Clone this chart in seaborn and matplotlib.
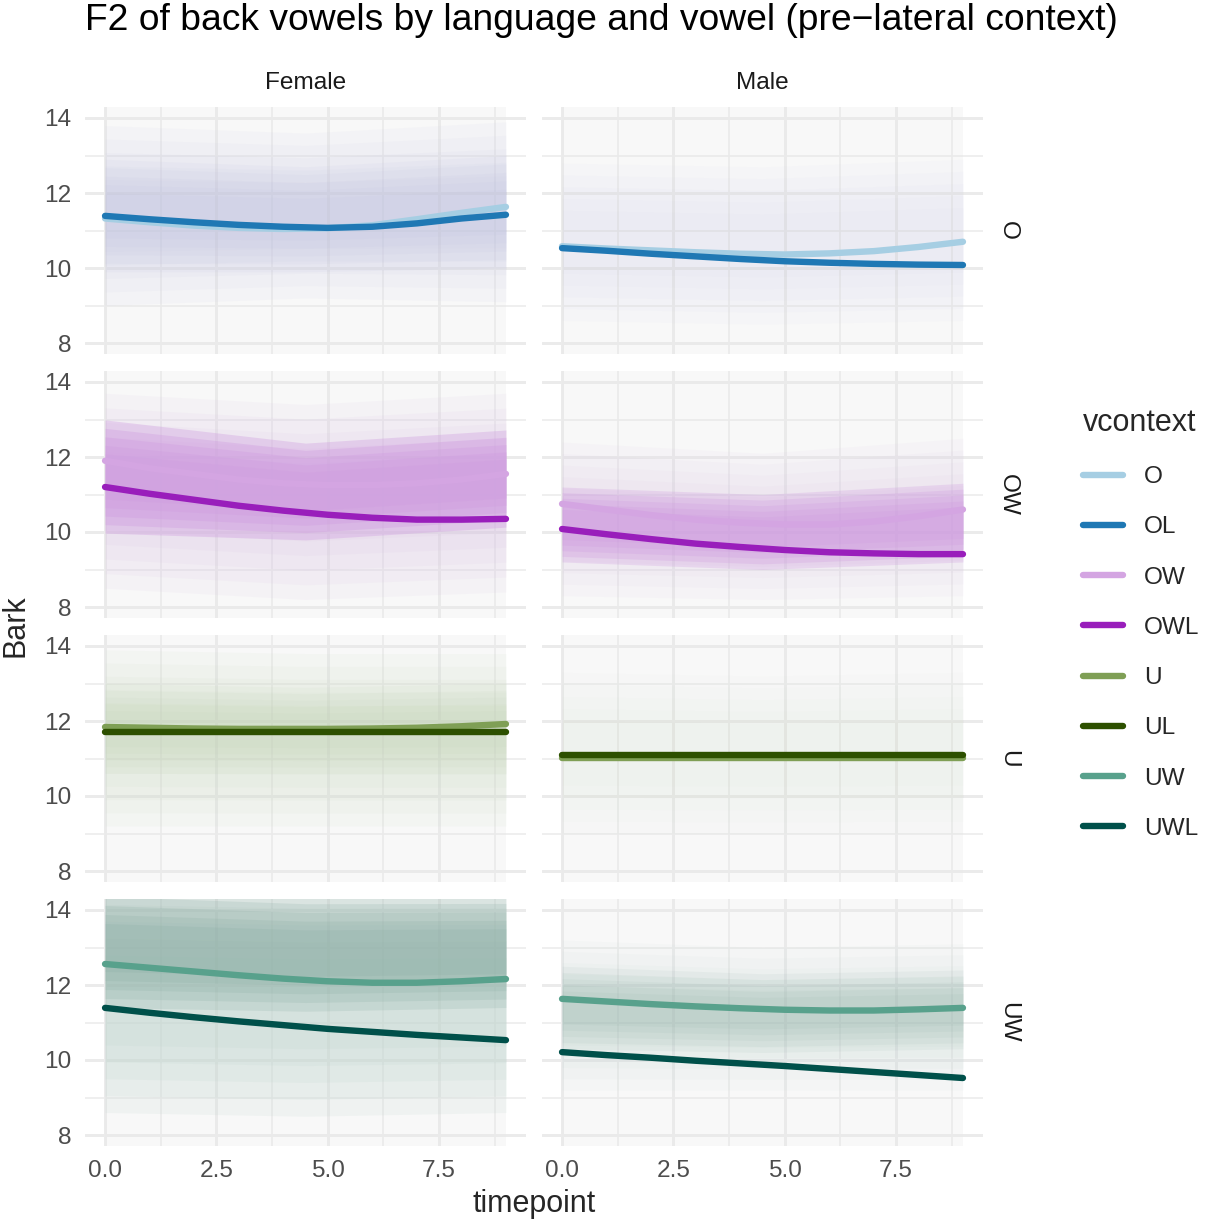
import numpy as np
import pandas as pd
import matplotlib
matplotlib.use("Agg")
import matplotlib.pyplot as plt
from matplotlib.lines import Line2D
import seaborn as sns

# smoothed mean F2 (Bark) per timepoint
timepoints = [0, 1, 2, 3, 4, 5, 6, 7, 8, 9]
sexes = ["Female", "Male"]
vowels = ["O", "OW", "U", "UW"]

female_O = [11.32, 11.22, 11.13, 11.07, 11.04, 11.06, 11.14, 11.30, 11.47, 11.63]
female_OL = [11.39, 11.30, 11.22, 11.15, 11.10, 11.07, 11.10, 11.19, 11.32, 11.42]
male_O = [10.58, 10.52, 10.47, 10.42, 10.38, 10.36, 10.39, 10.45, 10.56, 10.70]
male_OL = [10.53, 10.46, 10.38, 10.31, 10.24, 10.18, 10.14, 10.11, 10.09, 10.08]

female_OW = [11.90, 11.70, 11.55, 11.40, 11.30, 11.25, 11.25, 11.30, 11.40, 11.55]
female_OWL = [11.20, 11.02, 10.86, 10.70, 10.57, 10.46, 10.38, 10.33, 10.33, 10.35]
male_OW = [10.75, 10.60, 10.45, 10.33, 10.25, 10.20, 10.20, 10.28, 10.42, 10.60]
male_OWL = [10.08, 9.94, 9.81, 9.69, 9.60, 9.52, 9.46, 9.43, 9.41, 9.41]

female_U = [11.84, 11.82, 11.80, 11.79, 11.79, 11.79, 11.80, 11.82, 11.86, 11.92]
female_UL = [11.71, 11.71, 11.71, 11.71, 11.71, 11.71, 11.71, 11.71, 11.71, 11.71]
male_U = [11.02, 11.02, 11.02, 11.02, 11.02, 11.02, 11.02, 11.02, 11.02, 11.02]
male_UL = [11.09, 11.09, 11.09, 11.09, 11.09, 11.09, 11.09, 11.09, 11.09, 11.09]

female_UW = [12.56, 12.46, 12.36, 12.26, 12.17, 12.10, 12.06, 12.06, 12.10, 12.16]
female_UWL = [11.39, 11.26, 11.14, 11.03, 10.93, 10.83, 10.75, 10.67, 10.60, 10.53]
male_UW = [11.63, 11.56, 11.49, 11.43, 11.38, 11.34, 11.32, 11.32, 11.35, 11.39]
male_UWL = [10.21, 10.13, 10.06, 9.98, 9.91, 9.84, 9.76, 9.68, 9.60, 9.52]

means = {
    ("Female", "O"): {"O": female_O, "OL": female_OL},
    ("Male", "O"): {"O": male_O, "OL": male_OL},
    ("Female", "OW"): {"OW": female_OW, "OWL": female_OWL},
    ("Male", "OW"): {"OW": male_OW, "OWL": male_OWL},
    ("Female", "U"): {"U": female_U, "UL": female_UL},
    ("Male", "U"): {"U": male_U, "UL": male_UL},
    ("Female", "UW"): {"UW": female_UW, "UWL": female_UWL},
    ("Male", "UW"): {"UW": male_UW, "UWL": male_UWL},
}

# spread of the individual tokens (low / high edge at start, middle, end)
haze_t = [0, 4.5, 9]
haze_bands = [
    ("Female", "O", "O", [9.0, 9.2, 9.1], [13.8, 13.6, 13.9]),
    ("Female", "O", "OL", [9.9, 9.9, 10.0], [12.9, 12.7, 13.0]),
    ("Male", "O", "OL", [8.6, 8.5, 8.6], [12.8, 12.7, 12.9]),
    ("Female", "OW", "OW", [8.5, 8.2, 8.4], [13.7, 13.4, 13.7]),
    ("Female", "OW", "OWL", [9.97, 9.79, 10.13], [12.99, 12.37, 12.72]),
    ("Male", "OW", "OW", [8.3, 8.2, 8.3], [12.4, 12.1, 12.5]),
    ("Male", "OW", "OWL", [9.2, 9.0, 9.2], [11.2, 11.0, 11.3]),
    ("Female", "U", "U", [9.2, 9.2, 9.2], [13.9, 13.8, 13.8]),
    ("Female", "U", "UL", [10.6, 10.6, 10.6], [13.0, 12.9, 13.0]),
    ("Male", "U", "U", [9.0, 9.0, 9.0], [13.3, 13.2, 13.3]),
    ("Female", "UW", "UW", [8.6, 8.5, 8.6], [14.6, 14.5, 14.5]),
    ("Female", "UW", "UWL", [11.4, 11.3, 11.4], [14.6, 14.4, 14.4]),
    ("Male", "UW", "UW", [9.2, 9.2, 9.2], [13.2, 13.0, 13.1]),
    ("Male", "UW", "UWL", [10.3, 10.2, 10.3], [12.5, 12.3, 12.4]),
]

contexts = ["O", "OL", "OW", "OWL", "U", "UL", "UW", "UWL"]
palette = {"O": "#a6cee3", "OL": "#1f78b4", "OW": "#d4a5e2", "OWL": "#991ebb",
           "U": "#7f9f55", "UL": "#2d5000", "UW": "#58a18c", "UWL": "#00504a"}
haze_style = {"O": ("#c4c4e2", 0.25), "OL": ("#bcbee0", 0.30),
              "OW": ("#d6bce2", 0.30), "OWL": ("#d09ee0", 1.15),
              "U": ("#cadac0", 0.30), "UL": ("#bdd0ae", 0.28),
              "UW": ("#bcd4cc", 0.45), "UWL": ("#86aaa0", 0.60)}
male_dim = {"O": 0.4, "OW": 0.75, "U": 0.35, "UW": 0.45}

rows = []
for (sex, vowel), series in means.items():
    for ctx, vals in series.items():
        for t, v in zip(timepoints, vals):
            rows.append({"sex": sex, "vowel": vowel, "vcontext": ctx, "timepoint": t, "Bark": v})
df = pd.DataFrame(rows)

sns.set_theme(style="white")
plt.rcParams["font.family"] = ["Liberation Sans", "DejaVu Sans"]

W, H = 1207, 1220
fig = plt.figure(figsize=(W / 100, H / 100), dpi=100)

panel_left = [85, 542]
panel_w = 441
row_top0, row_step, panel_h = 106.75, 264, 247.5
grid_col = "#ebebeb"
layers = [1.0, 0.85, 0.7, 0.55, 0.4]

for r, vowel in enumerate(vowels):
    for c, sex in enumerate(sexes):
        top = row_top0 + r * row_step
        ax = fig.add_axes([panel_left[c] / W, 1 - (top + panel_h) / H, panel_w / W, panel_h / H])
        ax.set_xlim(-0.45, 9.45)
        ax.set_ylim(7.7, 14.3)
        ax.set_axisbelow(True)
        ax.set_xticks([0, 2.5, 5, 7.5])
        ax.set_xticks([1.25, 3.75, 6.25, 8.75], minor=True)
        ax.set_yticks([8, 10, 12, 14])
        ax.set_yticks([9, 11, 13], minor=True)
        ax.grid(which="major", color=grid_col, linewidth=2.1)
        ax.grid(which="minor", color=grid_col, linewidth=1.1)
        for s in ax.spines.values():
            s.set_visible(False)
        ax.tick_params(which="both", length=0, labelsize=17.6, labelcolor="#4d4d4d")
        ax.tick_params(axis="y", pad=10)
        ax.tick_params(axis="x", pad=10)
        if c == 1:
            ax.set_yticklabels([])
        else:
            ax.set_yticklabels(["8", "10", "12", "14"])
        if r < 3:
            ax.set_xticklabels([])
        else:
            ax.set_xticklabels(["0.0", "2.5", "5.0", "7.5"])

        # faint cloud of individual trajectories, denser towards the middle
        ax.fill_between(haze_t, [7.7] * 3, [14.3] * 3, color="#e8e8e8", alpha=0.3, linewidth=0)
        for bsex, bvowel, ctx, lo, hi in haze_bands:
            if bsex != sex or bvowel != vowel:
                continue
            col, a = haze_style[ctx]
            if sex == "Male":
                a *= male_dim[vowel]
            lo, hi = np.array(lo), np.array(hi)
            mid, half = (lo + hi) / 2, (hi - lo) / 2
            for f in layers:
                ax.fill_between(haze_t, mid - half * f, mid + half * f, color=col,
                                alpha=min(a / len(layers) * 1.6, 0.6), linewidth=0)

        sub = df[(df["sex"] == sex) & (df["vowel"] == vowel)]
        order = [k for k in contexts if k in sub["vcontext"].unique()]
        sns.lineplot(data=sub, x="timepoint", y="Bark", hue="vcontext", hue_order=order,
                     palette=palette, linewidth=4.6, ax=ax, legend=False)
        ax.set_xlabel("")
        ax.set_ylabel("")

        if r == 0:
            fig.text((panel_left[c] + panel_w / 2) / W, 1 - 83 / H, sex, ha="center",
                     va="center", fontsize=17.6, color="#1a1a1a")
        if c == 1:
            fig.text(1008 / W, 1 - (top + panel_h / 2) / H, vowel, rotation=-90,
                     ha="center", va="center", fontsize=17.6, color="#1a1a1a")

fig.text(85 / W, 1 - 21 / H, "F2 of back vowels by language and vowel (pre\u2212lateral context)",
         ha="left", va="center", fontsize=26.8, color="black")
fig.text(534 / W, 1 - 1204 / H, "timepoint", ha="center", va="center", fontsize=22)
fig.text(16 / W, 1 - 626 / H, "Bark", ha="center", va="center", fontsize=22, rotation=90)

handles = [Line2D([0], [0], color=palette[k], linewidth=4.6) for k in contexts]
leg = fig.legend(handles, contexts, title="vcontext", loc="upper left",
                 bbox_to_anchor=(1083 / W, 1 - 408 / H), frameon=False, borderpad=0,
                 borderaxespad=0, fontsize=17.6, title_fontsize=22, handlelength=1.65,
                 handletextpad=0.85, labelspacing=1.15, alignment="left")

fig.savefig("out.png", dpi=100, facecolor="white")
